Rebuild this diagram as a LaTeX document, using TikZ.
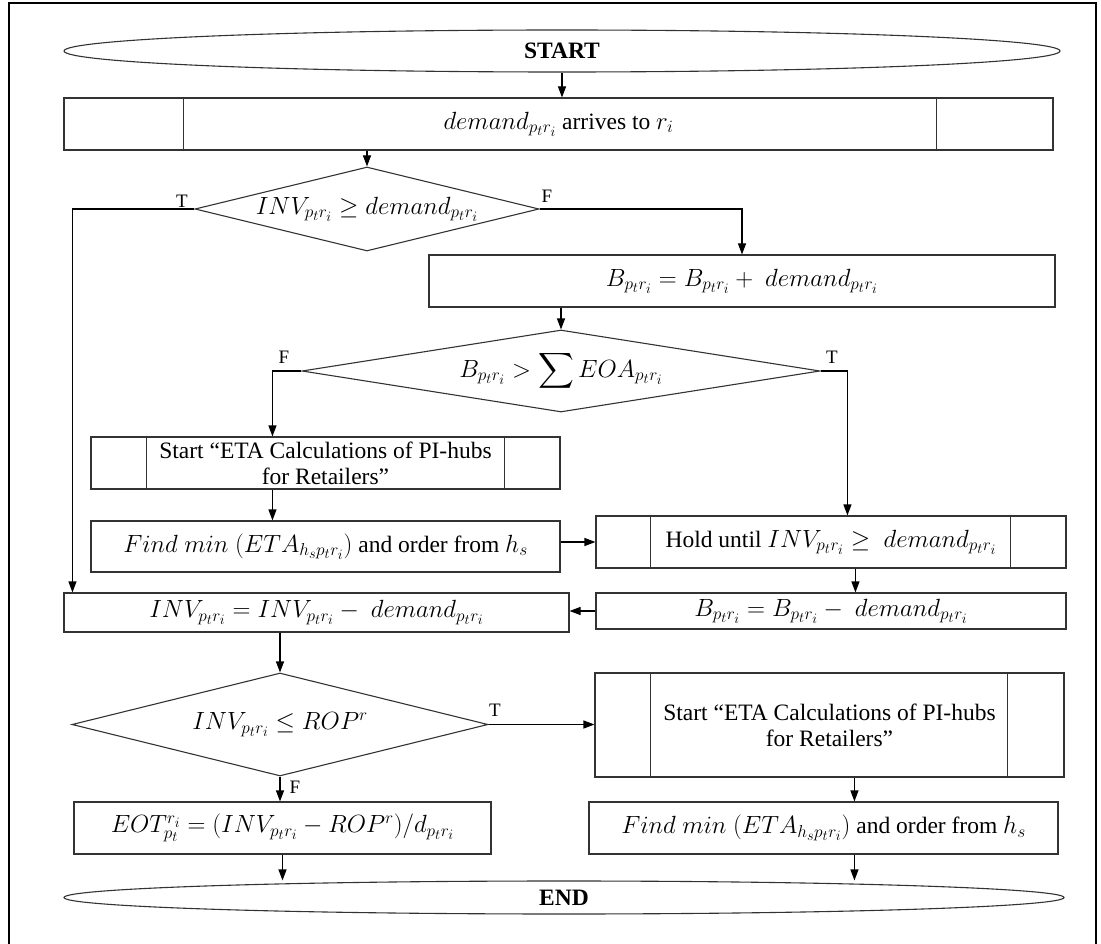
\documentclass[tikz,border=0pt]{standalone}
\usepackage{amsmath}
\usepackage{fontspec}
\setmainfont{Liberation Serif}
\usetikzlibrary{shapes.geometric,arrows.meta,calc}

% formulas are set a little larger than the surrounding words,
% with fairly large sub- and superscripts
\DeclareMathSizes{26}{26}{18.5}{14}
\newcommand{\mth}[1]{{\fontsize{26}{26}\selectfont$#1$}}

\tikzset{
  txt/.style={font=\fontsize{23.5}{26}\selectfont},
  box/.style={draw=black!80, line width=1.1pt, rectangle, inner sep=0pt, align=center, txt},
  dec/.style={draw=black!80, line width=1.1pt, diamond, inner sep=0pt, aspect=1},
  term/.style={draw=black!80, line width=1.1pt, ellipse, inner sep=0pt,
               font=\fontsize{23.5}{26}\selectfont\bfseries},
  arr/.style={draw=black, line width=1.1pt, -{Triangle[length=11pt,width=8pt]}},
  tf/.style={font=\fontsize{19}{22}\selectfont, inner sep=0pt},
  sub/.style={draw=black!80, line width=1.1pt}
}

\begin{document}
\begin{tikzpicture}[x=1pt, y=-1pt]
\useasboundingbox (0,0) rectangle (1101,944);

% outer frame
\draw[line width=1.2pt] (9,950) -- (9,3) -- (1096,3) -- (1096,950);

% terminals
\node[term, minimum width=996pt, minimum height=42pt] (start) at (562,51) {START};
\node[term, minimum width=1000pt, minimum height=33pt] (end) at (564,897.5) {END};

% demand arrives
\node[box, minimum width=989pt, minimum height=52pt] (arrive) at (558.5,124)
  {\mth{demand_{p_t r_i}} arrives to \mth{r_i}};
\draw[sub] ([xshift=120pt]arrive.north west) -- ([xshift=120pt]arrive.south west);
\draw[sub] ([xshift=-117pt]arrive.north east) -- ([xshift=-117pt]arrive.south east);

% first decision
\node[dec, minimum width=344pt, minimum height=84pt,
      label={[txt]center:\mth{INV_{p_t r_i} \geq demand_{p_t r_i}}}] (d1) at (367,209) {};

% backlog update
\node[box, minimum width=626pt, minimum height=52pt] (bplus) at (742,281)
  {\mth{B_{p_t r_i} = B_{p_t r_i} +\ demand_{p_t r_i}}};

% second decision
\node[dec, minimum width=518pt, minimum height=82pt,
      label={[txt]center:\mth{B_{p_t r_i} > \displaystyle\sum EOA_{p_t r_i}}}] (d2) at (561,371) {};

% ETA subprocess (left)
\node[box, minimum width=469pt, minimum height=52pt] (eta1) at (325.5,463)
  {Start “ETA Calculations of PI-hubs\\for Retailers”};
\draw[sub] ([xshift=56pt]eta1.north west) -- ([xshift=56pt]eta1.south west);
\draw[sub] ([xshift=-56pt]eta1.north east) -- ([xshift=-56pt]eta1.south east);

\node[box, minimum width=469pt, minimum height=51pt] (find1) at (325.5,546.5)
  {\mth{Find\ min\ (ETA_{h_s p_t r_i})} and order from \mth{h_s}};

% hold
\node[box, minimum width=470pt, minimum height=52pt] (hold) at (831,542)
  {Hold until \mth{INV_{p_t r_i} \geq\ demand_{p_t r_i}}};
\draw[sub] ([xshift=55pt]hold.north west) -- ([xshift=55pt]hold.south west);
\draw[sub] ([xshift=-56pt]hold.north east) -- ([xshift=-56pt]hold.south east);

\node[box, minimum width=470pt, minimum height=36pt] (bminus) at (831,611)
  {\mth{B_{p_t r_i} = B_{p_t r_i} -\ demand_{p_t r_i}}};

\node[box, minimum width=505pt, minimum height=39pt] (inveq) at (316.5,612.5)
  {\mth{INV_{p_t r_i} = INV_{p_t r_i} -\ demand_{p_t r_i}}};

% reorder decision
\node[dec, minimum width=416pt, minimum height=103pt,
      label={[txt]center:\mth{INV_{p_t r_i} \leq ROP^r}}] (d3) at (280,724.5) {};

\node[box, minimum width=417pt, minimum height=52pt] (eot) at (282.5,828)
  {\mth{EOT_{p_t}^{r_i} = (INV_{p_t r_i} - ROP^r)/d_{p_t r_i}}};

% ETA subprocess (right)
\node[box, minimum width=469pt, minimum height=104pt] (eta2) at (829.5,725)
  {Start “ETA Calculations of PI-hubs\\for Retailers”};
\draw[sub] ([xshift=56pt]eta2.north west) -- ([xshift=56pt]eta2.south west);
\draw[sub] ([xshift=-57pt]eta2.north east) -- ([xshift=-57pt]eta2.south east);

\node[box, minimum width=469pt, minimum height=52pt] (find2) at (823.5,828)
  {\mth{Find\ min\ (ETA_{h_s p_t r_i})} and order from \mth{h_s}};

% connectors
\draw[arr] (start.south) -- (start.south |- arrive.north);
\draw[arr] (arrive.south -| d1.north) -- (d1.north);
\draw[arr] (d1.west) -| ([xshift=9pt]inveq.north west);
\draw[arr] (d1.east) -| (bplus.north);
\draw[arr] (bplus.south -| d2.north) -- (d2.north);
\draw[arr] (d2.west) -| ([xshift=182pt]eta1.north west);
\draw[arr] ([xshift=182pt]eta1.south west) -- ([xshift=182pt]find1.north west);
\draw[arr] (d2.east) -| ([xshift=252pt]hold.north west);
\draw[arr] (hold.west -| find1.east) -- (hold.west);
\draw[arr] ([xshift=260pt]hold.south west) -- ([xshift=260pt]bminus.north west);
\draw[arr] (bminus.west) -- (bminus.west -| inveq.east);
\draw[arr] (inveq.south -| d3.north) -- (d3.north);
\draw[arr] (d3.east) -- (d3.east -| eta2.west);
\draw[arr] (d3.south) -- (d3.south |- eot.north);
\draw[arr] ([xshift=260pt]eta2.south west) -- ([xshift=260pt]eta2.south west |- find2.north);
\draw[arr] (eot.south) -- (eot.south |- end.north);
\draw[arr] ([xshift=266pt]find2.south west) -- ([xshift=266pt]find2.south west |- end.north);

% branch labels
\node[tf] (t1) at (182,201) {T};
\node[tf] (f1) at (547,196) {F};
\node[tf] (f2) at (284,357) {F};
\node[tf] (t2) at (832,357) {T};
\node[tf] (t3) at (495,710) {T};
\node[tf] (f3) at (295,787) {F};
\end{tikzpicture}
\end{document}
